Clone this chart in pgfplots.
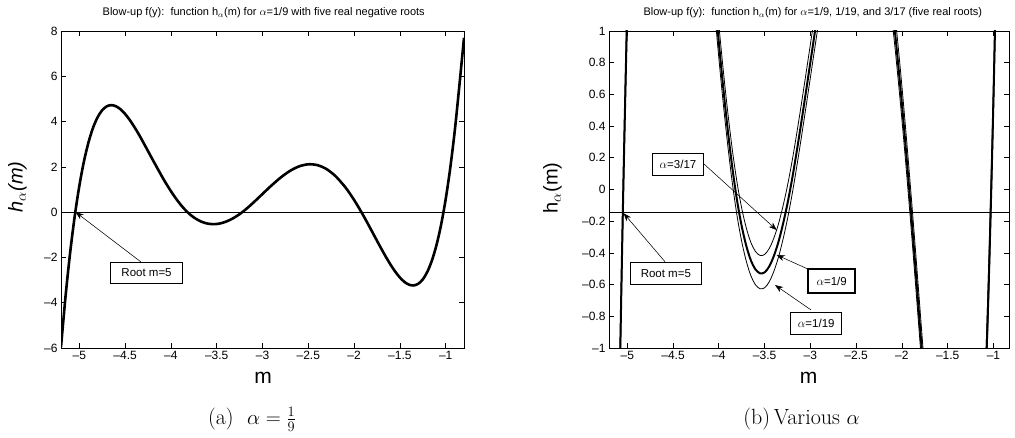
\documentclass[border=0pt]{standalone}
\usepackage{pgfplots}
\pgfplotsset{compat=1.18}
\usepackage{pgfplotstable}
\usepackage{fontspec}
\newfontfamily\hv{Liberation Sans}
\usetikzlibrary{arrows.meta}

\pgfplotstableread{
m a9 a317 a19
-5.20 -5.961 -5.848 -6.058
-5.15 -3.702 -3.589 -3.799
-5.10 -1.783 -1.670 -1.880
-5.05 -0.174 -0.061 -0.271
-5.00 1.156 1.269 1.059
-4.95 2.232 2.345 2.135
-4.90 3.081 3.194 2.984
-4.85 3.728 3.841 3.631
-4.80 4.195 4.308 4.098
-4.75 4.504 4.617 4.407
-4.70 4.675 4.788 4.578
-4.65 4.726 4.839 4.629
-4.60 4.676 4.789 4.579
-4.55 4.541 4.654 4.444
-4.50 4.336 4.449 4.239
-4.45 4.074 4.187 3.977
-4.40 3.768 3.881 3.671
-4.35 3.433 3.546 3.336
-4.30 3.070 3.183 2.973
-4.20 2.324 2.437 2.227
-4.10 1.593 1.706 1.496
-4.05 1.249 1.362 1.152
-4.00 0.926 1.039 0.829
-3.95 0.630 0.743 0.533
-3.90 0.362 0.475 0.265
-3.85 0.126 0.239 0.029
-3.80 -0.073 0.040 -0.170
-3.75 -0.232 -0.119 -0.329
-3.70 -0.356 -0.243 -0.453
-3.65 -0.447 -0.334 -0.544
-3.60 -0.504 -0.391 -0.601
-3.55 -0.529 -0.416 -0.626
-3.50 -0.523 -0.410 -0.620
-3.45 -0.486 -0.373 -0.583
-3.40 -0.421 -0.308 -0.518
-3.35 -0.333 -0.220 -0.430
-3.30 -0.220 -0.107 -0.317
-3.25 -0.088 0.025 -0.185
-3.20 0.065 0.178 -0.032
-3.15 0.237 0.350 0.140
-3.10 0.420 0.533 0.323
-3.05 0.610 0.723 0.513
-3.00 0.803 0.916 0.706
-2.95 0.996 1.109 0.899
-2.90 1.185 1.298 1.088
-2.80 1.534 1.647 1.437
-2.70 1.822 1.935 1.725
-2.60 2.023 2.136 1.926
-2.50 2.113 2.226 2.016
-2.40 2.076 2.189 1.979
-2.30 1.900 2.013 1.803
-2.20 1.580 1.693 1.483
-2.10 1.122 1.235 1.025
-2.05 0.844 0.957 0.747
-2.00 0.539 0.652 0.442
-1.95 0.208 0.321 0.111
-1.90 -0.143 -0.030 -0.240
-1.85 -0.509 -0.396 -0.606
-1.80 -0.885 -0.772 -0.982
-1.75 -1.263 -1.150 -1.360
-1.70 -1.636 -1.523 -1.733
-1.65 -1.995 -1.882 -2.092
-1.60 -2.331 -2.218 -2.428
-1.55 -2.632 -2.519 -2.729
-1.50 -2.887 -2.774 -2.984
-1.45 -3.082 -2.969 -3.179
-1.40 -3.204 -3.091 -3.301
-1.35 -3.237 -3.124 -3.334
-1.30 -3.165 -3.052 -3.262
-1.25 -2.970 -2.857 -3.067
-1.20 -2.632 -2.519 -2.729
-1.15 -2.132 -2.019 -2.229
-1.10 -1.447 -1.334 -1.544
-1.05 -0.555 -0.442 -0.652
-1.00 0.571 0.684 0.474
-0.95 1.955 2.068 1.858
-0.90 3.625 3.738 3.528
-0.85 5.612 5.725 5.515
-0.80 7.700 7.813 7.603
}\hdata

\pgfplotsset{
  matlab/.style={
    scale only axis,
    anchor=south west,
    tick align=inside,
    major tick length=5pt,
    axis line style={line width=0.9pt},
    every tick/.style={line width=0.7pt, black},
    every tick label/.append style={font=\hv\fontsize{12}{14}\selectfont},
    xtick={-5,-4.5,-4,-3.5,-3,-2.5,-2,-1.5,-1},
    xticklabels={\textendash5,\textendash4.5,\textendash4,\textendash3.5,\textendash3,\textendash2.5,\textendash2,\textendash1.5,\textendash1},
  },
}
\tikzset{
  annot/.style={draw, fill=white, line width=0.6pt, inner sep=0pt, font=\hv\fontsize{11.5}{13}\selectfont},
  arr/.style={-{Stealth[length=8pt,width=6pt,inset=2.5pt]}, line width=0.55pt},
}

\begin{document}
\begin{tikzpicture}
\path[use as bounding box] (0pt,0pt) rectangle (1015pt,-437pt);

% ---------- left panel ----------
\begin{axis}[matlab,
  at={(61pt,-348pt)}, width=403pt, height=317pt,
  xmin=-5.2, xmax=-0.8, ymin=-6, ymax=8,
  ytick={-6,-4,-2,0,2,4,6,8},
  yticklabels={\textendash6,\textendash4,\textendash2,0,2,4,6,8},
]
\addplot[line width=0.8pt] coordinates {(-5.2,0) (-0.8,0)};
\addplot[smooth, line width=2.6pt] table[x=m, y=a9] {\hdata};
\draw[arr] (axis cs:-4.327,-2.2) -- (axis cs:-5.04,0);
\node[annot, minimum width=71.6pt, minimum height=21pt] at (axis cs:-4.266,-2.68) {Root m=5};
\end{axis}

% ---------- right panel ----------
\begin{axis}[matlab,
  at={(609pt,-348pt)}, width=400pt, height=317pt,
  xmin=-5.2, xmax=-0.83, ymin=-1, ymax=1,
  ytick={-1,-0.8,-0.6,-0.4,-0.2,0,0.2,0.4,0.6,0.8,1},
  yticklabels={\textendash1,\textendash0.8,\textendash0.6,\textendash0.4,\textendash0.2,0,0.2,0.4,0.6,0.8,1},
]
\addplot[line width=0.8pt] coordinates {(-5.2,-0.143) (-0.83,-0.143)};
\addplot[smooth, line width=0.8pt] table[x=m, y=a317] {\hdata};
\addplot[smooth, line width=0.8pt] table[x=m, y=a19] {\hdata};
\addplot[smooth, line width=2pt] table[x=m, y=a9] {\hdata};
\draw[arr] (axis cs:-4.588,-0.456) -- (axis cs:-5.04,-0.15);
\draw[arr] (axis cs:-4.170,0.165) -- (axis cs:-3.368,-0.256);
\draw[arr] (axis cs:-3.004,-0.508) -- (axis cs:-3.368,-0.413);
\draw[arr] (axis cs:-2.993,-0.760) -- (axis cs:-3.386,-0.603);
\node[annot, minimum width=71.7pt, minimum height=21.6pt] at (axis cs:-4.579,-0.530) {Root m=5};
\node[annot, minimum width=50.6pt, minimum height=21.3pt] at (axis cs:-4.446,0.159) {$\alpha$=3/17};
\node[annot, line width=1.8pt, minimum width=46.7pt, minimum height=23.4pt] at (axis cs:-2.767,-0.577) {$\alpha$=1/9};
\node[annot, minimum width=51pt, minimum height=22.3pt] at (axis cs:-2.936,-0.844) {$\alpha$=1/19};
\end{axis}

% ---------- titles, labels, captions ----------
\node[anchor=base, font=\hv\fontsize{11}{13}\selectfont] at (263.7pt,-15.7pt)
  {Blow-up f(y):\ \ function h$_\alpha$(m) for $\alpha$=1/9 with five real negative roots};
\node[anchor=base, font=\hv\fontsize{11}{13}\selectfont] at (812.8pt,-15.7pt)
  {Blow-up f(y):\ \ function h$_\alpha$(m) for $\alpha$=1/9, 1/19, and 3/17 (five real roots)};
\node[font=\hv\fontsize{21}{25}\selectfont] at (263pt,-378pt) {m};
\node[font=\hv\fontsize{21}{25}\selectfont] at (808.5pt,-378pt) {m};
\node[rotate=90, font=\hv\itshape\fontsize{20}{24}\selectfont] at (17.5pt,-187pt) {h$_\alpha$(m)};
\node[rotate=90, font=\hv\fontsize{20}{24}\selectfont] at (552.5pt,-188pt) {h$_\alpha$(m)};
\node[anchor=base, font=\fontsize{22}{26}\selectfont] at (252pt,-424.5pt) {(a)\ \ $\alpha=\frac{1}{9}$};
\node[anchor=base, font=\fontsize{22}{26}\selectfont] at (801.5pt,-424.5pt) {(b)\,Various $\alpha$};
\end{tikzpicture}
\end{document}
